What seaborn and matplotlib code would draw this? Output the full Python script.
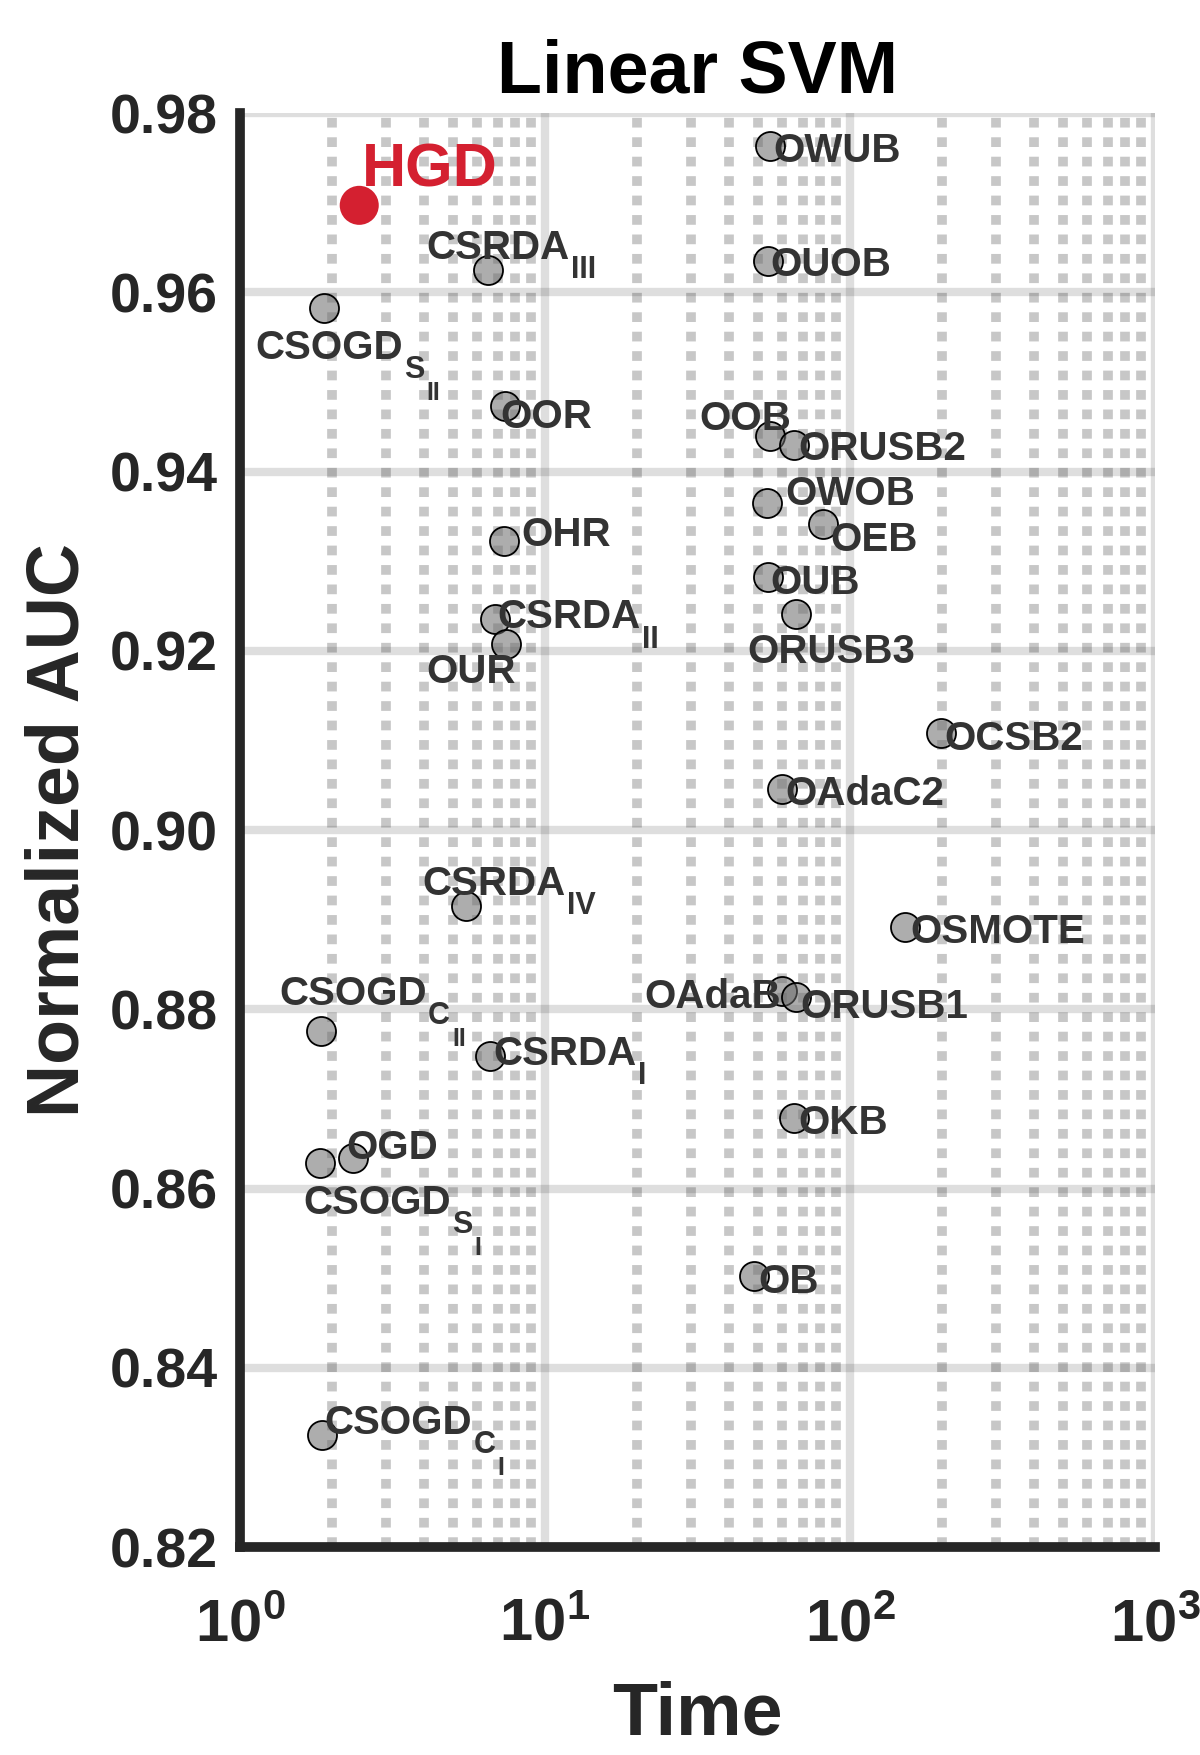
import numpy as np
import pandas as pd
import matplotlib
matplotlib.use('Agg')
import matplotlib.pyplot as plt
import seaborn as sns
from matplotlib.ticker import LogLocator, NullFormatter, NullLocator

# --- data ---
labels = ['OWUB', 'OUOB', 'OOB', 'ORUSB2', 'OWOB', 'OEB', 'OUB', 'ORUSB3',
          'OCSB2', 'OAdaC2', 'OSMOTE', 'OAdaB', 'ORUSB1', 'OKB', 'OB',
          'CSRDA', 'CSOGD', 'OOR', 'OHR', 'CSRDA',
          'OUR', 'CSRDA', 'CSOGD', 'CSRDA', 'OGD',
          'CSOGD', 'CSOGD']
subs = ['', '', '', '', '', '', '', '',
        '', '', '', '', '', '', '',
        'III', 'S', '', '', 'II',
        '', 'IV', 'C', 'I', '',
        'S', 'C']
subsubs = ['', '', '', '', '', '', '', '',
           '', '', '', '', '', '', '',
           '', 'II', '', '', '',
           '', '', 'II', '', '',
           'I', 'I']
times = [54.6, 54.0, 54.6, 65.7, 53.6, 81.7, 54.0, 66.3,
         199.0, 59.9, 152.0, 59.9, 66.3, 65.7, 48.5,
         6.5, 1.88, 7.39, 7.35, 6.85,
         7.45, 5.5, 1.85, 6.59, 2.34,
         1.83, 1.86]
aucs = [0.9763, 0.9635, 0.9440, 0.9430, 0.9365, 0.9342, 0.9282, 0.9241,
        0.9108, 0.9046, 0.8892, 0.8820, 0.8814, 0.8679, 0.8502,
        0.9625, 0.9583, 0.9473, 0.9322, 0.9235,
        0.9208, 0.8915, 0.8776, 0.8748, 0.8634,
        0.8629, 0.8325]

hgd_time = [2.46]
hgd_auc = [0.9697]

# label offsets in points (left edge, vertical centre of capitals)
label_dx = [2.4, 1.6, -50.8, 3.2, 12.9, 4.8, 1.6, -34.7,
            2.4, 2.4, 3.2, -99.0, 3.2, 3.2, 3.2,
            -44.3, -49.2, -3.2, 12.1, 1.6,
            -57.2, -31.4, -30.6, 2.4, -4.8,
            -12.1, 1.6]
label_dy = [-0.8, -0.8, 14.5, -0.8, 8.9, -9.7, -1.6, -25.0,
            -1.6, -1.6, -1.6, -1.6, -4.8, -1.6, -1.6,
            18.5, -26.6, -5.6, 7.3, 4.0,
            -17.7, 18.5, 29.0, 4.0, 9.7,
            -26.6, 11.3]

df = pd.DataFrame({'time': times, 'auc': aucs, 'label': labels})

sns.set_style('white')
plt.rcParams['font.family'] = ['Liberation Sans', 'DejaVu Sans']
plt.rcParams['font.weight'] = 'bold'
plt.rcParams['mathtext.fontset'] = 'custom'
plt.rcParams['mathtext.rm'] = 'Liberation Sans:bold'
plt.rcParams['mathtext.it'] = 'Liberation Sans:bold'
plt.rcParams['mathtext.bf'] = 'Liberation Sans:bold'
plt.rcParams['axes.axisbelow'] = True

dark = '#262626'
txt = '#333333'
fs = 29       # label size
fs_sub = 22   # first subscript
fs_sub2 = 18  # nested subscript
desc = 0.212  # descent of the font, fraction of em

fig = plt.figure(figsize=(12, 17.55), dpi=100)
ax = fig.add_axes([0.2, 0.1185, 0.7625, 0.8171])

sns.scatterplot(data=df, x='time', y='auc', ax=ax, s=436,
                color=(0.42, 0.42, 0.42, 0.55), edgecolor='black',
                linewidth=1.3, zorder=3)
sns.scatterplot(x=hgd_time, y=hgd_auc, ax=ax, s=790, color='#d42030',
                edgecolor='none', zorder=4)

for t, a, lab, s1, s2, dx, dy in zip(times, aucs, labels, subs, subsubs,
                                     label_dx, label_dy):
    main = ax.annotate(lab, (t, a), xytext=(dx, dy - 0.358 * fs),
                       textcoords='offset points', fontsize=fs,
                       fontweight='bold', color=txt, ha='left',
                       va='baseline', zorder=5)
    if s1:
        # subscript: baseline ~14pt below the main baseline
        sub = ax.annotate(s1, xy=(1, 0), xycoords=main,
                          xytext=(1, desc * fs - 14.4),
                          textcoords='offset points', fontsize=fs_sub,
                          fontweight='bold', color=txt, ha='left',
                          va='baseline', zorder=5)
        if s2:
            ax.annotate(s2, xy=(1, 0), xycoords=sub,
                        xytext=(1.5, desc * fs_sub - 15),
                        textcoords='offset points', fontsize=fs_sub2,
                        fontweight='bold', color=txt, ha='left',
                        va='baseline', zorder=5)

ax.annotate('HGD', (hgd_time[0], hgd_auc[0]), xytext=(1.6, 29 - 0.358 * 44),
            textcoords='offset points', fontsize=44, fontweight='bold',
            color='#d42030', ha='left', va='baseline', zorder=5)

ax.set_xscale('log')
ax.set_xlim(1, 1000)
ax.set_ylim(0.82, 0.98)
ax.set_xticks([1, 10, 100, 1000],
              labels=[r'$\mathbf{10^{0}}$', r'$\mathbf{10^{1}}$',
                      r'$\mathbf{10^{2}}$', r'$\mathbf{10^{3}}$'])
ax.xaxis.set_minor_locator(LogLocator(base=10, subs=np.arange(2, 10)))
ax.xaxis.set_minor_formatter(NullFormatter())
yt = np.round(np.arange(0.82, 0.981, 0.02), 2)
ax.set_yticks(yt, labels=[f'{v:.2f}' for v in yt])
ax.yaxis.set_minor_locator(NullLocator())

ax.grid(which='major', color='black', alpha=0.13, linewidth=6, linestyle='-')
ax.grid(which='minor', axis='x', color='black', alpha=0.22, linewidth=7,
        linestyle=(0, (1, 1)))

for side in ['top', 'right']:
    ax.spines[side].set_visible(False)
for side in ['left', 'bottom']:
    ax.spines[side].set_linewidth(7)
    ax.spines[side].set_color(dark)
    ax.spines[side].set_zorder(6)

ax.tick_params(axis='both', which='major', direction='in', length=16,
               width=6, color=dark, labelcolor=dark, top=False, right=False)
ax.tick_params(axis='y', pad=16, labelsize=40)
ax.tick_params(axis='x', pad=37, labelsize=43)
ax.tick_params(axis='x', which='minor', direction='in', length=13, width=5,
               color=dark, top=False)

ax.set_title('Linear SVM', fontsize=53, fontweight='bold', color='black', pad=15)
ax.set_xlabel('Time', fontsize=53, fontweight='bold', color=dark)
ax.set_ylabel('Normalized AUC', fontsize=53, fontweight='bold', color=dark)
ax.xaxis.set_label_coords(0.5, -0.093)
ax.yaxis.set_label_coords(-0.16, 0.5)

fig.savefig('out.png', dpi=100)
